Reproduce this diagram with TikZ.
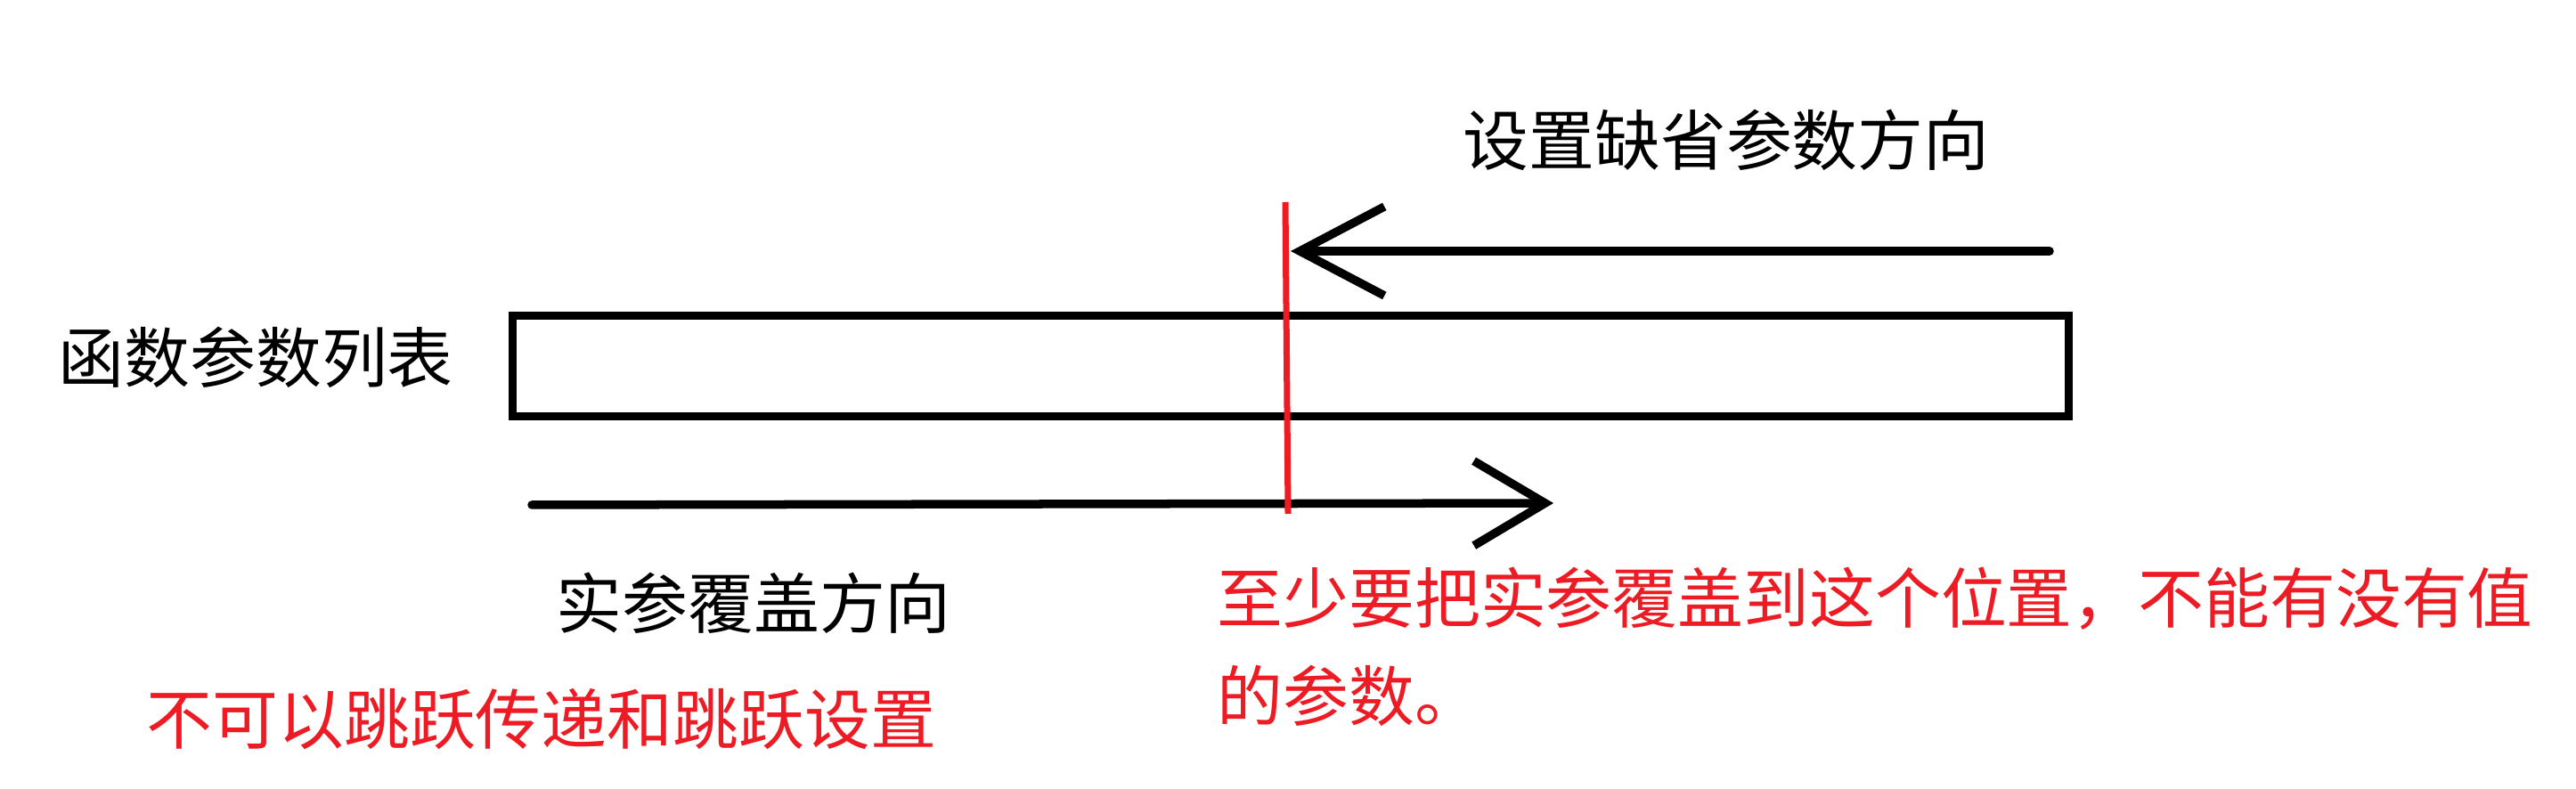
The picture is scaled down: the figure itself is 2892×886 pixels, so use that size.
\documentclass[tikz,border=0pt]{standalone}
\usepackage{fontspec}
\setmainfont{Noto Sans CJK SC}
\usetikzlibrary{positioning,arrows.meta}
\definecolor{paintred}{RGB}{237,28,36}

\begin{document}
\begin{tikzpicture}[x=0.01cm,y=-0.01cm,>={Straight Barb[length=9.5mm,width=10mm]},
  lbl/.style={anchor=west,inner sep=0pt,font=\fontsize{21}{31.3}\selectfont},
  note/.style={lbl,text=paintred},
  dirline/.style={->,line width=0.95mm,line cap=round}]
\useasboundingbox[fill=white] (0,0) rectangle (2892,886);
\node (plist) [draw,line width=0.9mm,minimum width=17.46cm,minimum height=1.12cm,inner sep=0pt] at (1449,411) {};
\node (ltitle) [lbl] at (65,401) {函数参数列表};
\node (dtitle) [lbl] at (1642,157) {设置缺省参数方向};
\node (atitle) [lbl] at (624,677) {实参覆盖方向};
\node (nojump) [note] at (164,808) {不可以跳跃传递和跳跃设置};
\node (cover) [note,anchor=north west,align=left] at (1366,636) {至少要把实参覆盖到这个位置，不能有没有值\\的参数。};
% arrow ends and the red mark
\coordinate (dstart) at (2301,282);
\coordinate (dend) at (1449,282);
\coordinate (astart) at (597,567);
\coordinate (aend) at (1744,565);
\coordinate (mtop) at (1443,227);
\coordinate (mbot) at (1446,577);
\draw[dirline] (dstart) -- (dend);
\draw[dirline,-{Straight Barb[length=8mm,width=9.5mm]}] (astart) -- (aend);
\draw[paintred,line width=0.7mm] (mtop) -- (mbot);
\end{tikzpicture}
\end{document}
